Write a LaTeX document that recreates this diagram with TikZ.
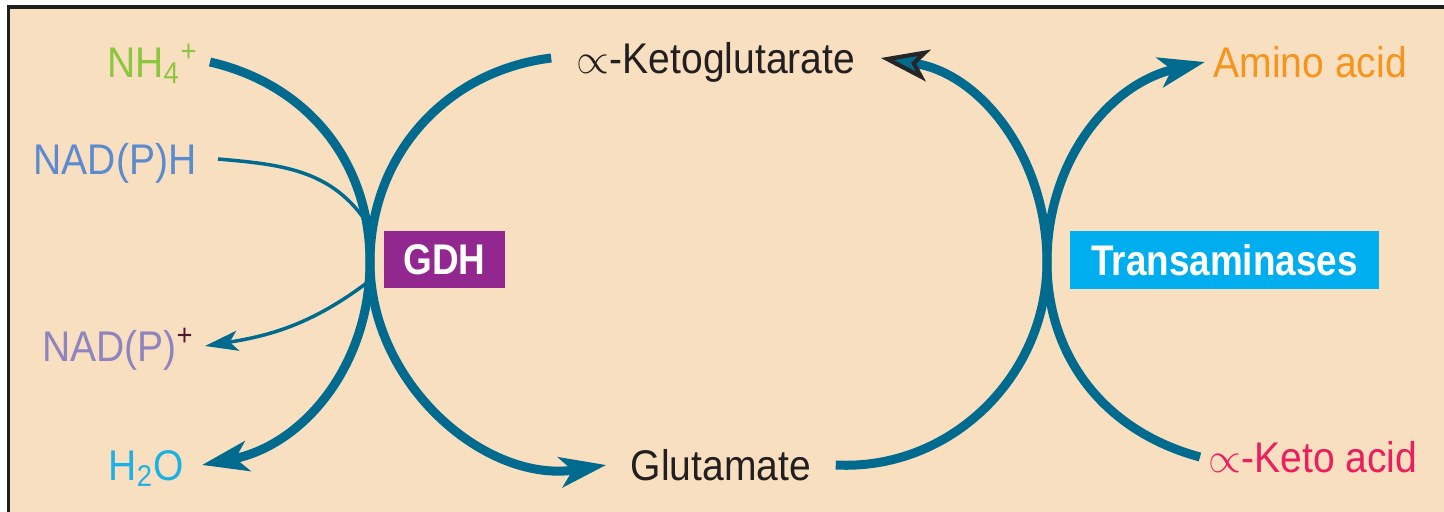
\documentclass[tikz,border=0pt]{standalone}
\usepackage{fontspec}
\setmainfont{Liberation Sans}[FakeStretch=0.91]
\newfontfamily\boxfont{Liberation Sans}[FakeStretch=0.86]
\usetikzlibrary{arrows.meta}
\definecolor{peach}{HTML}{F8DFC0}
\definecolor{arrowteal}{HTML}{006A8F}
\definecolor{ink}{HTML}{231F20}
\definecolor{nhgreen}{HTML}{8CC63F}
\definecolor{nadhblue}{HTML}{5A8AD0}
\definecolor{nadplav}{HTML}{8E84C0}
\definecolor{plusdark}{HTML}{4A1A30}
\definecolor{waterblue}{HTML}{1BB0E6}
\definecolor{aminoorange}{HTML}{F7941D}
\definecolor{ketored}{HTML}{ED1E5D}
\definecolor{gdhpurple}{HTML}{92278F}
\definecolor{transcyan}{HTML}{00AEEF}

\begin{document}
\begin{tikzpicture}[x=0.01cm,y=0.01cm,
    lbl/.style={inner ysep=0pt,inner xsep=#1,text height=8.7pt,text depth=0pt,
                font=\fontsize{12.2}{14}\selectfont},
    lbl/.default=0pt,
    enzyme/.style={fill=#1,text=white,inner sep=0pt,minimum height=0.575cm,
                   font=\boxfont\bfseries\fontsize{12.2}{14}\selectfont},
    cyc/.style={draw=arrowteal,line width=0.09cm,
                -{Stealth[length=0.46cm,width=0.3cm,inset=0.12cm]}},
    co/.style={draw=arrowteal,line width=0.035cm}]
  \useasboundingbox (0,0) rectangle (1444,512);
  \fill[white] (0,0) rectangle (1444,512);
  \fill[black!88] (7,0) rectangle (1444,507);
  \fill[peach] (10,0) rectangle (1444,503);

  % substrates and products
  \node[lbl=0.11cm,anchor=east,text=nhgreen] (nh4) at (210,450)
       {NH\textsubscript{4}\textsuperscript{+}};
  \node[lbl=0.21cm,anchor=east,text=nadhblue] (nadh) at (218,353) {NAD(P)H};
  \node[lbl=0.10cm,anchor=east,text=nadplav] (nadp) at (205,166)
       {NAD(P)\textsuperscript{\color{plusdark}+}};
  \node[lbl=0.17cm,anchor=east,text=waterblue] (h2o) at (202,47)
       {H\textsubscript{2}O};
  \node[lbl,minimum width=3.28cm,text=ink] (akg) at (716,454) {$\propto$-Ketoglutarate};
  \node[lbl,minimum width=2.28cm,text=ink] (glu) at (721,47) {Glutamate};
  \node[lbl=0.08cm,anchor=west,text=aminoorange] (amino) at (1205,450) {Amino acid};
  \node[lbl=0.08cm,anchor=west,text=ketored] (keto) at (1200,55) {$\propto$-Keto acid};

  % enzymes
  \node[enzyme=gdhpurple,minimum width=1.21cm] (gdh) at (444.5,252.5) {GDH};
  \node[enzyme=transcyan,minimum width=3.09cm] (trans) at (1224.5,252) {Transaminases};

  \coordinate (gdhx) at (370,250);
  \coordinate (tax) at (1047,250);
  \coordinate (nadhx) at (365,292);
  \coordinate (nadpx) at (368,230);

  % cofactor
  \draw[co] (nadh.east) to[out=-5,in=125] (nadhx);
  \draw[co,-{Stealth[length=0.33cm,width=0.2cm,inset=0.08cm]}]
       (nadpx) to[out=-143,in=9] (nadp.east);

  % GDH
  \draw[cyc] (nh4.east) to[out=-13,in=90] (gdhx) to[out=-90,in=11] (h2o.east);
  \draw[cyc] (akg.west) to[out=187,in=90] (gdhx) to[out=-90,in=189] (glu.west);
  % transamination
  \draw[cyc,-{Stealth[length=0.48cm,width=0.32cm,inset=0.12cm,
                      color=black!85,fill=arrowteal,line width=1.2pt]}]
       (glu.east) to[out=-3,in=-90] (tax) to[out=90,in=-9] (akg.east);
  \draw[cyc] (keto.west) to[out=165,in=-90] (tax) to[out=90,in=193] (amino.west);
\end{tikzpicture}
\end{document}
